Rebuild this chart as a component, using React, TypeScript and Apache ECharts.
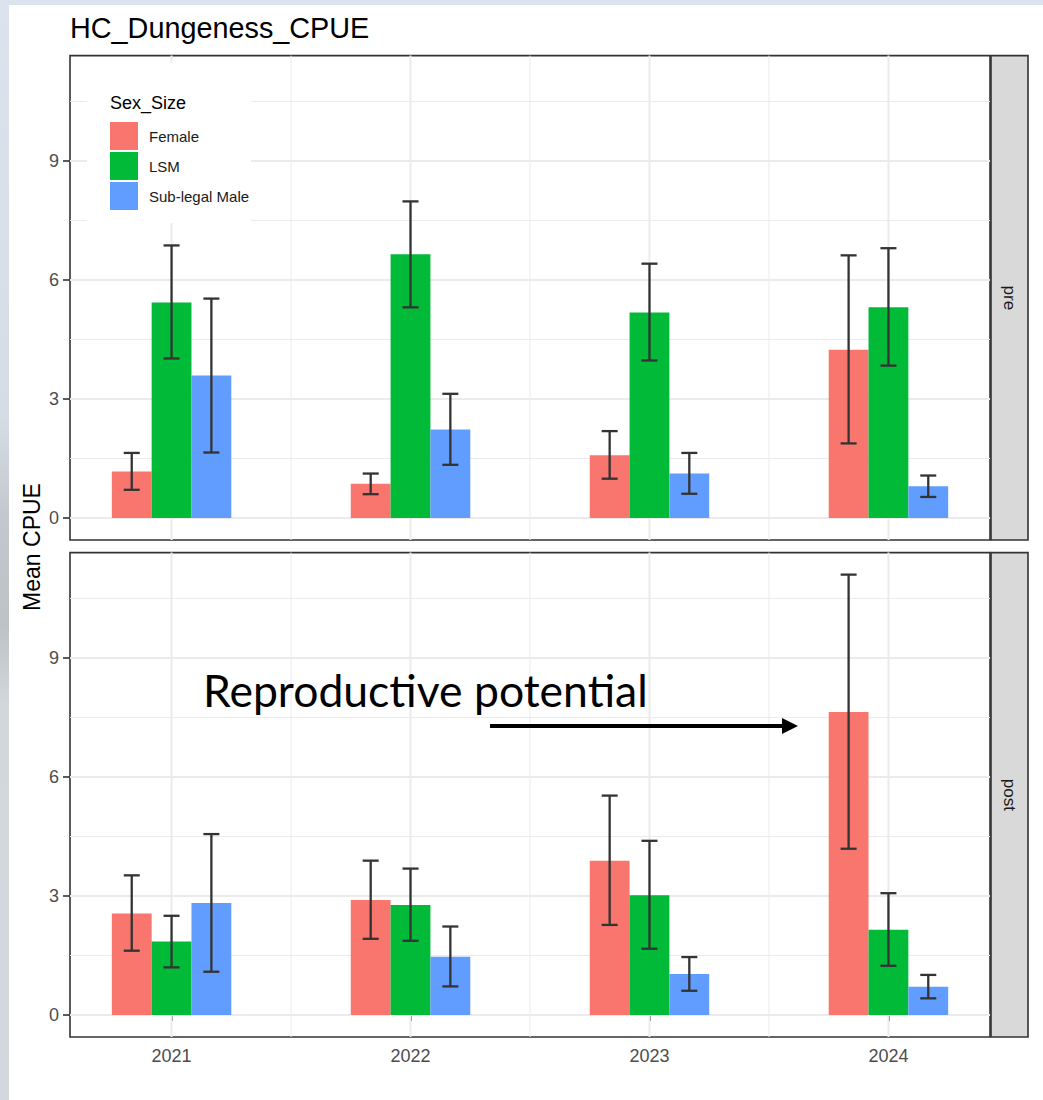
import React, { useEffect, useRef } from "react";
import * as echarts from "echarts";

// ---------- data ----------
const years = [2021, 2022, 2023, 2024];
const groups = ["Female", "LSM", "Sub-legal Male"];
const panelNames = ["pre", "post"];
const colors = ["#F8766D", "#00BA38", "#619CFF"];

// pre
const preFemale = [1.17, 0.86, 1.58, 4.24];
const preFemaleLo = [0.71, 0.6, 0.99, 1.88];
const preFemaleHi = [1.64, 1.12, 2.19, 6.62];
const preLSM = [5.43, 6.65, 5.18, 5.31];
const preLSMLo = [4.02, 5.31, 3.97, 3.84];
const preLSMHi = [6.87, 7.98, 6.41, 6.8];
const preSub = [3.59, 2.23, 1.12, 0.8];
const preSubLo = [1.65, 1.34, 0.61, 0.53];
const preSubHi = [5.53, 3.13, 1.64, 1.07];

// post
const postFemale = [2.56, 2.9, 3.89, 7.64];
const postFemaleLo = [1.62, 1.92, 2.27, 4.19];
const postFemaleHi = [3.52, 3.89, 5.53, 11.1];
const postLSM = [1.85, 2.77, 3.02, 2.15];
const postLSMLo = [1.2, 1.87, 1.67, 1.24];
const postLSMHi = [2.5, 3.69, 4.39, 3.07];
const postSub = [2.82, 1.47, 1.03, 0.71];
const postSubLo = [1.09, 0.72, 0.61, 0.42];
const postSubHi = [4.56, 2.23, 1.46, 1.01];

const yTicks = [0, 3, 6, 9];
const yMinorTicks = [1.5, 4.5, 7.5, 10.5];
const xMinorTicks = [2021.5, 2022.5, 2023.5];

const title = "HC_Dungeness_CPUE";
const yTitle = "Mean CPUE";
const legendTitle = "Sex_Size";
const annotationText = "Reproductive potential";

// ---------- layout / style ----------
const FONT = "'Liberation Sans', Arial, sans-serif";
const Y_MIN = -0.555;
const Y_MAX = 11.655;
const X_MIN = 2020.575;
const X_MAX = 2024.425;
const BAR_W = 1 / 6;
const DODGE = [-1 / 6, 0, 1 / 6];
const WHISKER_W = 0.067;
const GRID_LEFT = 70;
const GRID_RIGHT = 53;
const PANEL_TOPS = [55.6, 552.6];
const PANEL_H = 484.4;

const panelData = [
  {
    means: [preFemale, preLSM, preSub],
    lows: [preFemaleLo, preLSMLo, preSubLo],
    highs: [preFemaleHi, preLSMHi, preSubHi],
  },
  {
    means: [postFemale, postLSM, postSub],
    lows: [postFemaleLo, postLSMLo, postSubLo],
    highs: [postFemaleHi, postLSMHi, postSubHi],
  },
];

function buildOption() {
  const grids: any[] = [];
  const xAxes: any[] = [];
  const yAxes: any[] = [];
  const series: any[] = [];

  panelNames.forEach((_, p) => {
    grids.push({
      left: GRID_LEFT,
      right: GRID_RIGHT,
      top: PANEL_TOPS[p],
      height: PANEL_H,
      show: true,
      backgroundColor: "#FFFFFF",
      borderColor: "#333333",
      borderWidth: 1.6,
      containLabel: false,
    });
    const isBottom = p === panelNames.length - 1;
    xAxes.push({
      type: "value",
      gridIndex: p,
      min: X_MIN,
      max: X_MAX,
      axisLine: { show: false },
      splitLine: { show: false },
      axisTick: {
        show: isBottom,
        customValues: years,
        length: 6,
        lineStyle: { color: "#333333", width: 1.6 },
      },
      axisLabel: {
        show: isBottom,
        customValues: years,
        formatter: (v: number) => String(v),
        color: "#4D4D4D",
        fontSize: 18,
        fontFamily: FONT,
        margin: 10,
      },
    });
    yAxes.push({
      type: "value",
      gridIndex: p,
      min: Y_MIN,
      max: Y_MAX,
      axisLine: { show: false },
      splitLine: { show: false },
      axisTick: {
        show: true,
        customValues: yTicks,
        length: 7,
        lineStyle: { color: "#333333", width: 1.6 },
      },
      axisLabel: {
        show: true,
        customValues: yTicks,
        color: "#4D4D4D",
        fontSize: 18,
        fontFamily: FONT,
        margin: 11,
      },
    });

    // grid lines (horizontal)
    const hLines = [
      ...yMinorTicks.map((v) => [v, 1]),
      ...yTicks.map((v) => [v, 2]),
    ];
    series.push({
      type: "custom",
      name: "hgrid" + p,
      xAxisIndex: p,
      yAxisIndex: p,
      z: 1,
      silent: true,
      data: hLines,
      renderItem: (params: any, api: any) => {
        const v = api.value(0) as number;
        const w = api.value(1) as number;
        const cs = params.coordSys;
        const y = api.coord([X_MIN, v])[1];
        return {
          type: "line",
          shape: { x1: cs.x, y1: y, x2: cs.x + cs.width, y2: y },
          style: { stroke: "#EBEBEB", lineWidth: w },
        };
      },
    });
    // grid lines (vertical)
    const vLines = [
      ...xMinorTicks.map((v) => [v, 1]),
      ...years.map((v) => [v, 2]),
    ];
    series.push({
      type: "custom",
      name: "vgrid" + p,
      xAxisIndex: p,
      yAxisIndex: p,
      z: 1,
      silent: true,
      data: vLines,
      renderItem: (params: any, api: any) => {
        const v = api.value(0) as number;
        const w = api.value(1) as number;
        const cs = params.coordSys;
        const x = api.coord([v, 0])[0];
        return {
          type: "line",
          shape: { x1: x, y1: cs.y, x2: x, y2: cs.y + cs.height },
          style: { stroke: "#EBEBEB", lineWidth: w },
        };
      },
    });

    const pd = panelData[p];
    groups.forEach((g, gi) => {
      const barRows = years.map((yr, i) => [yr + DODGE[gi], pd.means[gi][i]]);
      series.push({
        type: "custom",
        name: g,
        xAxisIndex: p,
        yAxisIndex: p,
        z: 2,
        silent: true,
        itemStyle: { color: colors[gi] },
        data: barRows,
        renderItem: (params: any, api: any) => {
          const x = api.value(0) as number;
          const v = api.value(1) as number;
          const a = api.coord([x - BAR_W / 2, v]);
          const b = api.coord([x + BAR_W / 2, 0]);
          return {
            type: "rect",
            shape: { x: a[0], y: a[1], width: b[0] - a[0], height: b[1] - a[1] },
            style: { fill: colors[gi] },
          };
        },
      });
      const errRows = years.map((yr, i) => [
        yr + DODGE[gi],
        pd.lows[gi][i],
        pd.highs[gi][i],
      ]);
      series.push({
        type: "custom",
        name: "err_" + g + "_" + p,
        xAxisIndex: p,
        yAxisIndex: p,
        z: 3,
        silent: true,
        data: errRows,
        renderItem: (params: any, api: any) => {
          const x = api.value(0) as number;
          const lo = api.value(1) as number;
          const hi = api.value(2) as number;
          const top = api.coord([x, hi]);
          const bot = api.coord([x, lo]);
          const l = api.coord([x - WHISKER_W / 2, hi])[0];
          const r = api.coord([x + WHISKER_W / 2, hi])[0];
          const st = { stroke: "#333333", lineWidth: 2.3 };
          return {
            type: "group",
            children: [
              { type: "line", shape: { x1: top[0], y1: top[1], x2: bot[0], y2: bot[1] }, style: st },
              { type: "line", shape: { x1: l, y1: top[1], x2: r, y2: top[1] }, style: st },
              { type: "line", shape: { x1: l, y1: bot[1], x2: r, y2: bot[1] }, style: st },
            ],
          };
        },
      });
    });
  });

  const stripX = 991;
  const stripW = 37;
  const graphics: any[] = [
    // background frame (screenshot edges)
    {
      type: "rect",
      shape: { x: 0, y: 0, width: 9, height: 1100 },
      style: {
        fill: new echarts.graphic.LinearGradient(0, 0, 0, 1, [
          { offset: 0, color: "#DCE3EE" },
          { offset: 0.38, color: "#D6DCE5" },
          { offset: 0.47, color: "#C3C8CE" },
          { offset: 0.57, color: "#BDC2C7" },
          { offset: 0.64, color: "#D2D7DC" },
          { offset: 1, color: "#D3D8DE" },
        ]),
      },
      z: 0,
    },
    {
      type: "rect",
      shape: { x: 0, y: 0, width: 1043, height: 5 },
      style: { fill: "#DCE3EE" },
      z: 0,
    },
    // title
    {
      type: "text",
      x: 70,
      y: 28,
      style: {
        text: title,
        fontSize: 28.8,
        fontFamily: FONT,
        fill: "#000000",
        align: "left",
        verticalAlign: "middle",
        textAlign: "left",
        textVerticalAlign: "middle",
      },
      z: 20,
    },
    // y title
    {
      type: "text",
      x: 32,
      y: 547,
      rotation: Math.PI / 2,
      style: {
        text: yTitle,
        fontSize: 23,
        fontFamily: FONT,
        fill: "#000000",
        align: "center",
        verticalAlign: "middle",
        textAlign: "center",
        textVerticalAlign: "middle",
      },
      z: 20,
    },
    // legend box
    {
      type: "rect",
      shape: { x: 87, y: 63, width: 164, height: 160 },
      style: { fill: "#FFFFFF" },
      z: 10,
    },
    {
      type: "text",
      x: 110,
      y: 103,
      style: {
        text: legendTitle,
        fontSize: 18,
        fontFamily: FONT,
        fill: "#000000",
        align: "left",
        verticalAlign: "middle",
        textAlign: "left",
        textVerticalAlign: "middle",
      },
      z: 20,
    },
  ];

  panelNames.forEach((name, p) => {
    graphics.push({
      type: "rect",
      shape: { x: stripX, y: PANEL_TOPS[p], width: stripW, height: PANEL_H },
      style: { fill: "#D9D9D9", stroke: "#333333", lineWidth: 1.6 },
      z: 5,
    });
    graphics.push({
      type: "text",
      x: stripX + stripW / 2,
      y: PANEL_TOPS[p] + PANEL_H / 2,
      rotation: -Math.PI / 2,
      style: {
        text: name,
        fontSize: 17,
        fontFamily: FONT,
        fill: "#1A1A1A",
        align: "center",
        verticalAlign: "middle",
        textAlign: "center",
        textVerticalAlign: "middle",
      },
      z: 6,
    });
  });

  // annotation
  graphics.push({
    type: "text",
    x: 203,
    y: 689,
    style: {
      text: annotationText,
      fontSize: 44.5,
      fontFamily: "Lato, 'Open Sans', sans-serif",
      fill: "#000000",
      align: "left",
      verticalAlign: "middle",
      textAlign: "left",
      textVerticalAlign: "middle",
    },
    z: 30,
  });
  graphics.push({
    type: "line",
    shape: { x1: 490, y1: 726, x2: 785, y2: 726 },
    style: { stroke: "#000000", lineWidth: 4 },
    z: 30,
  });
  graphics.push({
    type: "polygon",
    shape: { points: [[782, 718], [798, 726], [782, 734]] },
    style: { fill: "#000000" },
    z: 30,
  });

  return {
    animation: false,
    backgroundColor: "#FFFFFF",
    textStyle: { fontFamily: FONT },
    grid: grids,
    xAxis: xAxes,
    yAxis: yAxes,
    legend: {
      data: groups.map((g, i) => ({ name: g, itemStyle: { color: colors[i] } })),
      orient: "vertical",
      left: 110,
      top: 122,
      padding: 0,
      itemWidth: 28,
      itemHeight: 28,
      itemGap: 2,
      icon: "rect",
      selectedMode: false,
      z: 20,
      textStyle: {
        fontSize: 15,
        fontFamily: FONT,
        color: "#1A1A1A",
        padding: [0, 0, 0, 6],
      },
    },
    graphic: { elements: graphics },
    series,
  };
}

export default function App() {
  const ref = useRef<HTMLDivElement>(null);
  useEffect(() => {
    document.body.style.margin = "0";
    if (!ref.current) return;
    const chart = echarts.init(ref.current, undefined, { renderer: "svg" });
    chart.setOption(buildOption() as any);
    return () => {
      chart.dispose();
    };
  }, []);
  return <div ref={ref} style={{ width: 1043, height: 1100 }} />;
}
